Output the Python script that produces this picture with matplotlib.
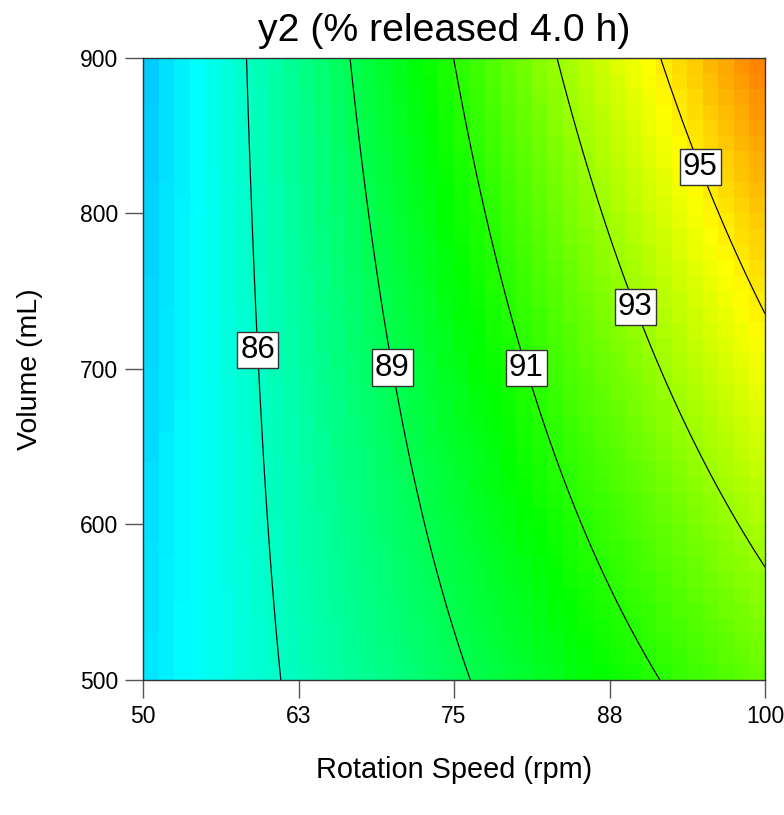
import numpy as np
import matplotlib
matplotlib.use("Agg")
import matplotlib.pyplot as plt
from matplotlib.colors import LinearSegmentedColormap, Normalize

# Factor ranges
speed_range = [50, 100]        # rpm
volume_range = [500, 900]      # mL

# Response model for y2 in coded factors A (speed) and B (volume)
coef_intercept = 89.61
coef_A = 5.11
coef_B = 1.20
coef_AB = 1.50

# Contour levels and where their labels sit (speed, volume)
contour_levels = [86.4, 88.6, 90.8, 93.0, 95.2]
label_speed = [59.2, 70.1, 81.0, 90.0, 95.2]
label_volume = [712, 701, 701, 741, 831]

# Axis ticks
x_ticks = [50, 62.5, 75, 87.5, 100]
x_tick_labels = ["50", "63", "75", "88", "100"]
y_ticks = [500, 600, 700, 800, 900]
y_tick_labels = ["500", "600", "700", "800", "900"]

# Colour gradient anchored to response values
color_stop_values = [80.5, 85.3, 90.1, 94.9, 99.7]
color_stop_colors = ["#0000ff", "#00ffff", "#00ff00", "#ffff00", "#ff0000"]
n_cells = 40


def response(speed, volume):
    a = (speed - np.mean(speed_range)) / (np.ptp(speed_range) / 2)
    b = (volume - np.mean(volume_range)) / (np.ptp(volume_range) / 2)
    return coef_intercept + coef_A * a + coef_B * b + coef_AB * a * b


plt.rcParams["font.family"] = ["Liberation Sans", "DejaVu Sans"]

fig = plt.figure(figsize=(7.84, 8.15), dpi=100)
ax = fig.add_axes([143 / 784, 1 - 680 / 815, 622 / 784, 622 / 815])

vmin, vmax = color_stop_values[0], color_stop_values[-1]
positions = [(v - vmin) / (vmax - vmin) for v in color_stop_values]
cmap = LinearSegmentedColormap.from_list("gradient", list(zip(positions, color_stop_colors)))
norm = Normalize(vmin=vmin, vmax=vmax)

# Coarse shaded grid
xe = np.linspace(*speed_range, n_cells + 1)
ye = np.linspace(*volume_range, n_cells + 1)
xc = (xe[:-1] + xe[1:]) / 2
yc = (ye[:-1] + ye[1:]) / 2
XC, YC = np.meshgrid(xc, yc)
ax.pcolormesh(xe, ye, response(XC, YC), cmap=cmap, norm=norm,
              shading="flat", antialiased=False, edgecolors="none")

# Smooth contour lines
xf = np.linspace(*speed_range, 400)
yf = np.linspace(*volume_range, 400)
XF, YF = np.meshgrid(xf, yf)
cs = ax.contour(XF, YF, response(XF, YF), levels=contour_levels,
                colors="black", linewidths=0.85)

ax.set_xlim(*speed_range)
ax.set_ylim(*volume_range)

labels = ax.clabel(cs, fmt=lambda v: f"{v:.0f}", fontsize=22.5, inline=False,
                   manual=list(zip(label_speed, label_volume)))
for t in labels:
    t.set_rotation(0)
    t.set_color("black")
    t.set_bbox(dict(boxstyle="square,pad=0.1", facecolor="white",
                    edgecolor="#333333", linewidth=1.0))
    t.set_zorder(5)

ax.set_xticks(x_ticks)
ax.set_xticklabels(x_tick_labels)
ax.set_yticks(y_ticks)
ax.set_yticklabels(y_tick_labels)
ax.tick_params(direction="out", length=13, width=1, color="#555555", labelsize=16.5)
ax.tick_params(axis="x", pad=5)
ax.tick_params(axis="y", pad=5)

for s in ax.spines.values():
    s.set_color("#333333")
    s.set_linewidth(1.0)

ax.set_xlabel("Rotation Speed (rpm)", fontsize=20.8)
ax.xaxis.label.set_va("center")
ax.xaxis.set_label_coords(0.5, -(770 - 680) / 622)
ax.set_ylabel("Volume (mL)", fontsize=20.5)
ax.yaxis.label.set_va("center")
ax.yaxis.set_label_coords((30 - 143) / 622, 0.5)

ax.set_title("y2 (% released 4.0 h)", fontsize=28.3, x=(444 - 143) / 622,
             y=1 + (58 - 31) / 622, va="center", pad=0)

fig.savefig("out.png", dpi=100)
